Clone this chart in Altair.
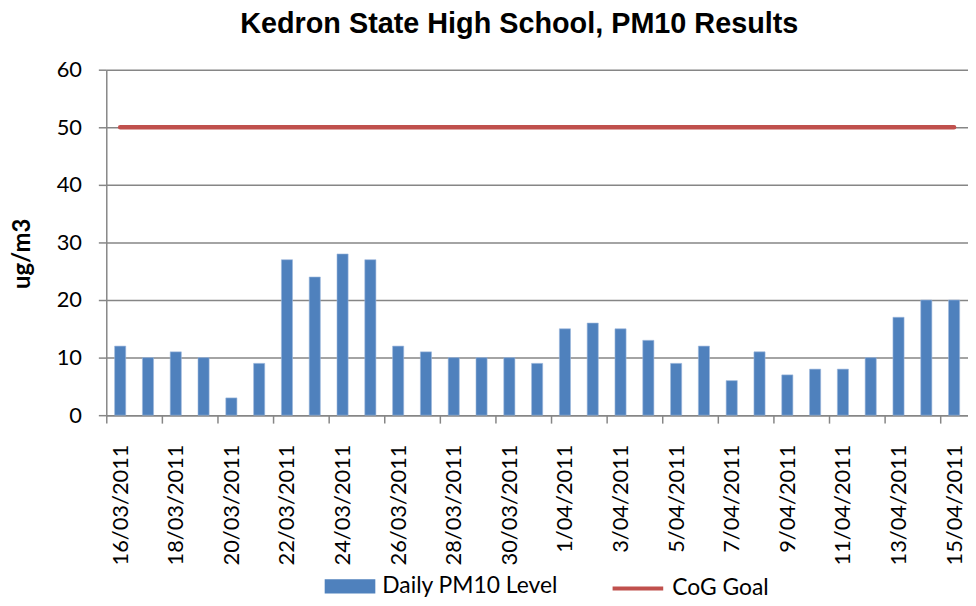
import altair as alt
import pandas as pd

dates = ["16/03/2011", "17/03/2011", "18/03/2011", "19/03/2011", "20/03/2011", "21/03/2011",
         "22/03/2011", "23/03/2011", "24/03/2011", "25/03/2011", "26/03/2011", "27/03/2011",
         "28/03/2011", "29/03/2011", "30/03/2011", "31/03/2011", "1/04/2011", "2/04/2011",
         "3/04/2011", "4/04/2011", "5/04/2011", "6/04/2011", "7/04/2011", "8/04/2011",
         "9/04/2011", "10/04/2011", "11/04/2011", "12/04/2011", "13/04/2011", "14/04/2011",
         "15/04/2011"]
pm10 = [12, 10, 11, 10, 3, 9, 27, 24, 28, 27, 12, 11, 10, 10, 10, 9,
        15, 16, 15, 13, 9, 12, 6, 11, 7, 8, 8, 10, 17, 20, 20]
goal = [50] * len(dates)
series_names = ["Daily PM10 Level", "CoG Goal"]
series_colors = ["#4F81BD", "#C0504D"]
y_ticks = [0, 10, 20, 30, 40, 50, 60]

bars_df = pd.DataFrame({"date": dates, "value": pm10, "series": series_names[0]})
goal_df = pd.DataFrame({"date": dates, "value": goal, "series": series_names[1]})

label_dates = dates[::2]
FONT = "Lato"
GRID = "#868686"

x_enc = alt.X(
    "date:N",
    sort=dates,
    scale=alt.Scale(domain=dates, paddingInner=0.6, paddingOuter=0.3),
    axis=alt.Axis(
        title=None,
        values=label_dates,
        labelAngle=-90,
        labelFont=FONT,
        labelFontSize=22,
        labelColor="#000000",
        labelPadding=21,
        tickOffset=-14,
        labelOffset=14,
        tickSize=8,
        tickColor=GRID,
        domainColor=GRID,
        domainWidth=1.5,
        tickWidth=1.5,
        grid=False,
    ),
)

y_enc = alt.Y(
    "value:Q",
    scale=alt.Scale(domain=[0, 60], nice=False),
    axis=alt.Axis(
        title="ug/m3",
        titleFont=FONT,
        titleFontSize=24,
        titleFontWeight="bold",
        titleColor="#000000",
        titlePadding=22,
        titleY=185,
        values=y_ticks,
        labelFont=FONT,
        labelFontSize=22,
        labelColor="#000000",
        labelPadding=17,
        tickSize=8,
        tickColor=GRID,
        tickWidth=1.5,
        domainColor=GRID,
        domainWidth=1.5,
        gridColor=GRID,
        gridWidth=1.5,
    ),
)

bar_legend = alt.Legend(
    title=None,
    orient="none",
    legendX=220,
    legendY=495,
    labelFont=FONT,
    labelFontSize=23,
    labelColor="#000000",
    labelOffset=7,
    labelLimit=400,
    symbolSize=2601,
    symbolType="M-1,-0.28L1,-0.28L1,0.28L-1,0.28Z",
    symbolStrokeWidth=0,
    symbolOpacity=1,
)

line_legend = alt.Legend(
    title=None,
    orient="none",
    legendX=508,
    legendY=495,
    labelFont=FONT,
    labelFontSize=23,
    labelColor="#000000",
    labelOffset=7,
    labelLimit=400,
    symbolSize=2601,
    symbolType="M-1,0L1,0",
    symbolStrokeWidth=4,
    symbolOpacity=1,
)

bars = alt.Chart(bars_df).mark_bar(stroke="#9DB8DE", strokeWidth=0.6).encode(
    x=x_enc,
    y=y_enc,
    fill=alt.Fill("series:N", scale=alt.Scale(domain=series_names[:1], range=series_colors[:1]),
                  legend=bar_legend),
)

line = alt.Chart(goal_df).mark_line(strokeWidth=4.5, strokeCap="round").encode(
    x=alt.X("date:N", sort=dates),
    y=alt.Y("value:Q"),
    stroke=alt.Stroke("series:N", scale=alt.Scale(domain=series_names[1:], range=series_colors[1:]),
                      legend=line_legend),
)

chart = alt.layer(bars, line).properties(
    width=868,
    height=348,
    title=alt.TitleParams(
        "Kedron State High School, PM10 Results",
        font="Liberation Sans",
        fontSize=29,
        fontWeight="bold",
        color="#000000",
        anchor="middle",
        dx=-18,
        offset=20,
    ),
    autosize=alt.AutoSizeParams(type="none"),
    padding={"left": 99, "top": 60, "right": 0, "bottom": 182},
).configure_view(stroke=None)

chart.save("out.html", embed_options={"renderer": "svg", "actions": False})
